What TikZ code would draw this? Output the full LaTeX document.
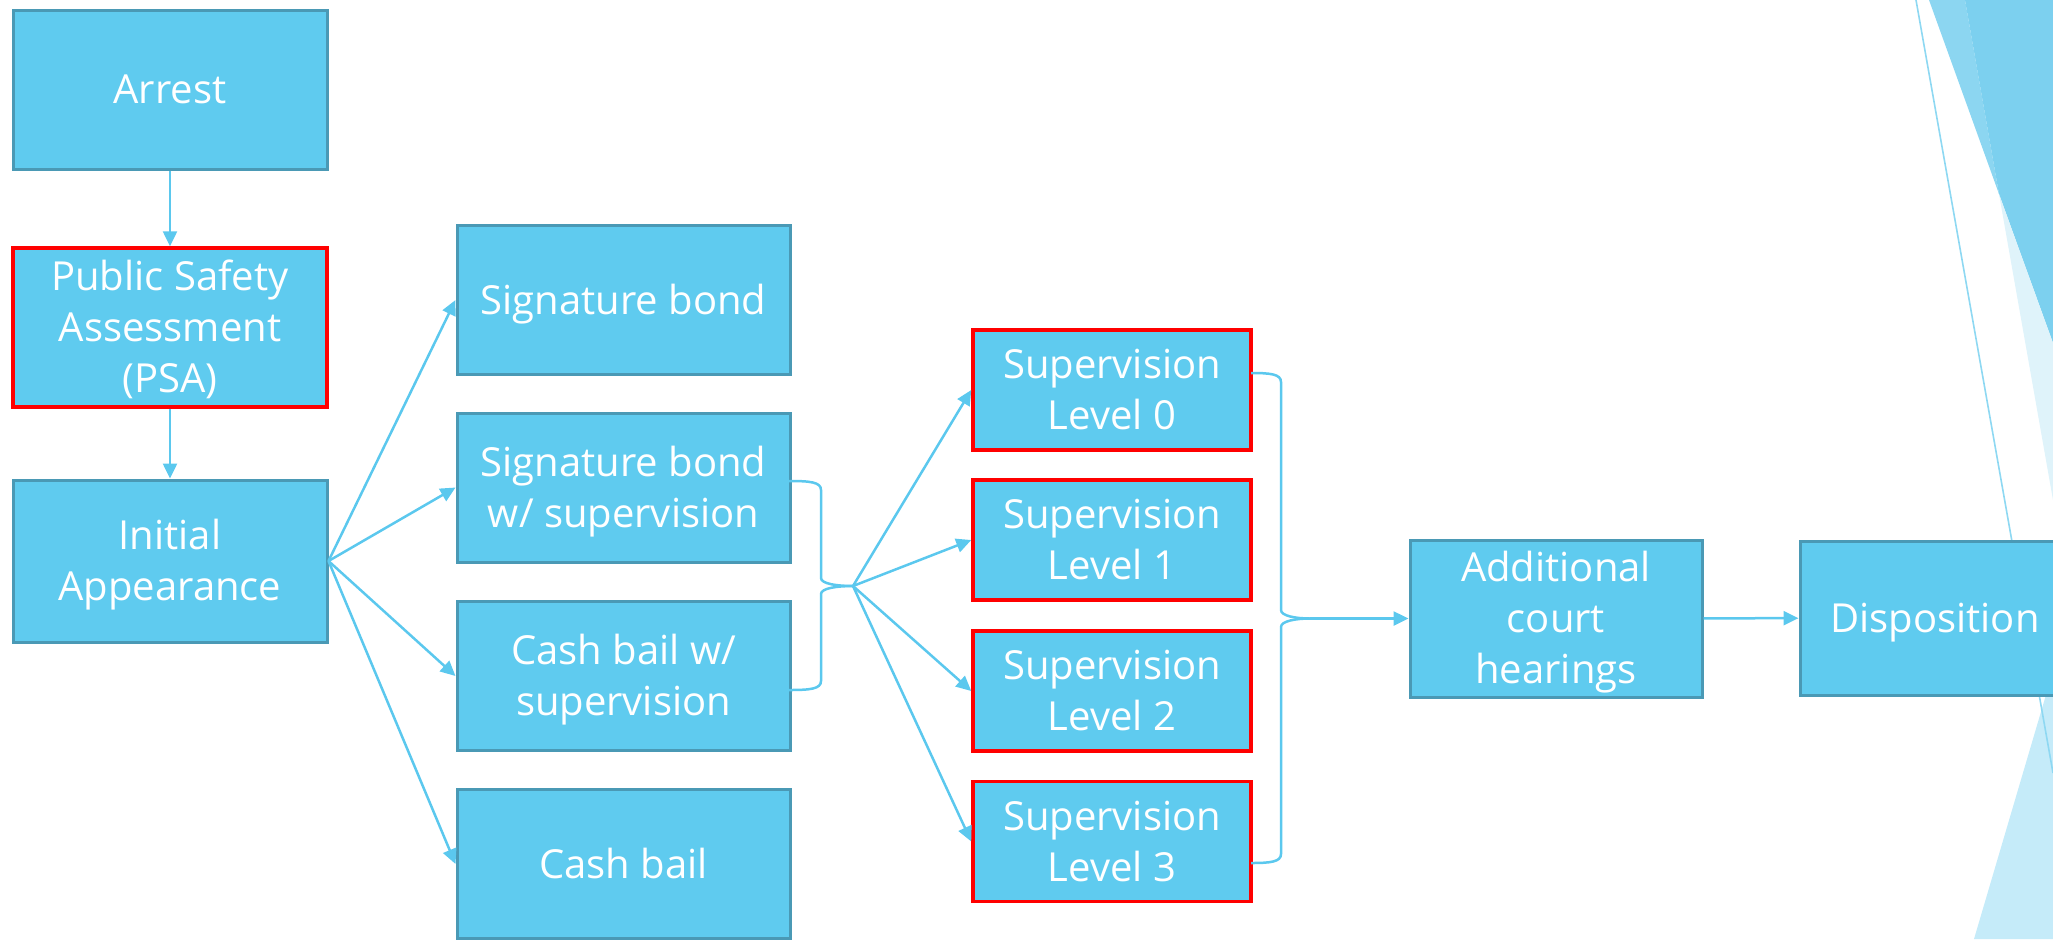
\documentclass[tikz,border=0pt]{standalone}
\usepackage{fontspec}
\setmainfont{Open Sans}
\usetikzlibrary{arrows.meta}
\definecolor{boxfill}{HTML}{5FCBEF}
\definecolor{boxline}{HTML}{4A99B5}
\definecolor{connc}{HTML}{5BC8EE}
\definecolor{decoA}{HTML}{8CD6F1}
\definecolor{decoAB}{HTML}{7CD0EF}
\definecolor{decoB}{HTML}{DFF3FA}
\definecolor{decoC}{HTML}{C5EBF9}
\definecolor{decoL}{HTML}{8ED8F2}
\newcommand\lbl[1]{\raisebox{-2pt}[\height][\depth]{\begin{tabular}{@{}c@{}}#1\end{tabular}}}
\begin{document}
\begin{tikzpicture}[x=0.5pt,y=-0.5pt,
  box/.style={draw=boxline, line width=1.5pt, fill=boxfill, text=white,
    font=\fontsize{20}{25.5}\selectfont, inner sep=0pt},
  redbox/.style={box, draw=red, line width=1.75pt},
  leftbox/.style={box, minimum width=157pt},
  midbox/.style={box, minimum width=166.5pt, minimum height=74.5pt},
  lvlbox/.style={redbox, minimum width=139pt, minimum height=60pt},
  conn/.style={draw=connc, line width=1.25pt},
  arr/.style={conn, -{Triangle[length=7.5pt,width=7pt]}}]
\useasboundingbox (0,0) rectangle (2053,939);
\clip (0,0) rectangle (2053,939);
% background decoration
\fill[decoC] (2053,671) -- (2053,939) -- (1974,939) -- cycle;
\fill[decoA] (1929,0) -- (1965,0) -- (1999,194) -- cycle;
\fill[decoAB] (1965,0) -- (2053,0) -- (2053,343) -- (1999,194) -- cycle;
\fill[decoB] (1999,194) -- (2053,343) -- (2053,500) -- cycle;
\draw[decoL, line width=0.8pt] (1916,0) -- (2053,773);
% nodes
\node[leftbox, minimum height=79.5pt] (arrest) at (170,89.5) {\lbl{Arrest}};
\node[leftbox, redbox, minimum height=79.5pt] (psa) at (170,327.5) {\lbl{Public Safety\\Assessment\\(PSA)}};
\node[leftbox, minimum height=81pt] (ia) at (170,561) {\lbl{Initial\\Appearance}};
\node[midbox] (sb) at (623.5,300) {\lbl{Signature bond}};
\node[midbox] (sbs) at (623.5,487.5) {\lbl{Signature bond\\w/ supervision}};
\node[midbox] (cbs) at (623.5,676) {\lbl{Cash bail w/\\supervision}};
\node[midbox] (cb) at (623.5,864) {\lbl{Cash bail}};
\node[lvlbox] (l0) at (1112,390) {\lbl{Supervision\\Level 0}};
\node[lvlbox] (l1) at (1112,540) {\lbl{Supervision\\Level 1}};
\node[lvlbox] (l2) at (1112,691) {\lbl{Supervision\\Level 2}};
\node[lvlbox] (l3) at (1112,841.5) {\lbl{Supervision\\Level 3}};
\node[box, minimum width=146pt, minimum height=78.5pt] (act) at (1556,618.5) {\lbl{Additional\\court\\hearings}};
\node[box, minimum width=135pt, minimum height=77pt] (disp) at (1935,618) {\lbl{Disposition}};
% connectors
\draw[arr] (arrest) -- (psa);
\draw[arr] (psa) -- (ia);
\foreach \t in {sb,sbs,cbs,cb}{\draw[arr] (ia.east) -- (\t.west);}
% left brace
\coordinate (b1top) at (789,481);
\coordinate (b1bot) at (789,690);
\coordinate (b1tip) at (853,586);
\draw[conn] (b1top) .. controls (810,481) and (821,482) .. (821,490) -- (821,578)
  .. controls (821,584) and (838,586) .. (b1tip);
\draw[conn] (b1bot) .. controls (810,690) and (821,689) .. (821,681) -- (821,594)
  .. controls (821,588) and (838,586) .. (b1tip);
\foreach \t in {l0,l1,l2,l3}{\draw[arr] (b1tip) -- (\t.west);}
% right brace
\coordinate (b2top) at (1251,373);
\coordinate (b2bot) at (1251,863);
\coordinate (b2tip) at (1310,618.5);
\draw[conn] (b2top) .. controls (1270,373) and (1281,374) .. (1281,382) -- (1281,610)
  .. controls (1281,616) and (1296,618.5) .. (b2tip);
\draw[conn] (b2bot) .. controls (1270,863) and (1281,862) .. (1281,854) -- (1281,627)
  .. controls (1281,621) and (1296,618.5) .. (b2tip);
\draw[arr] (b2tip) -- (act.west);
\draw[arr] (act) -- (disp);
\end{tikzpicture}
\end{document}
